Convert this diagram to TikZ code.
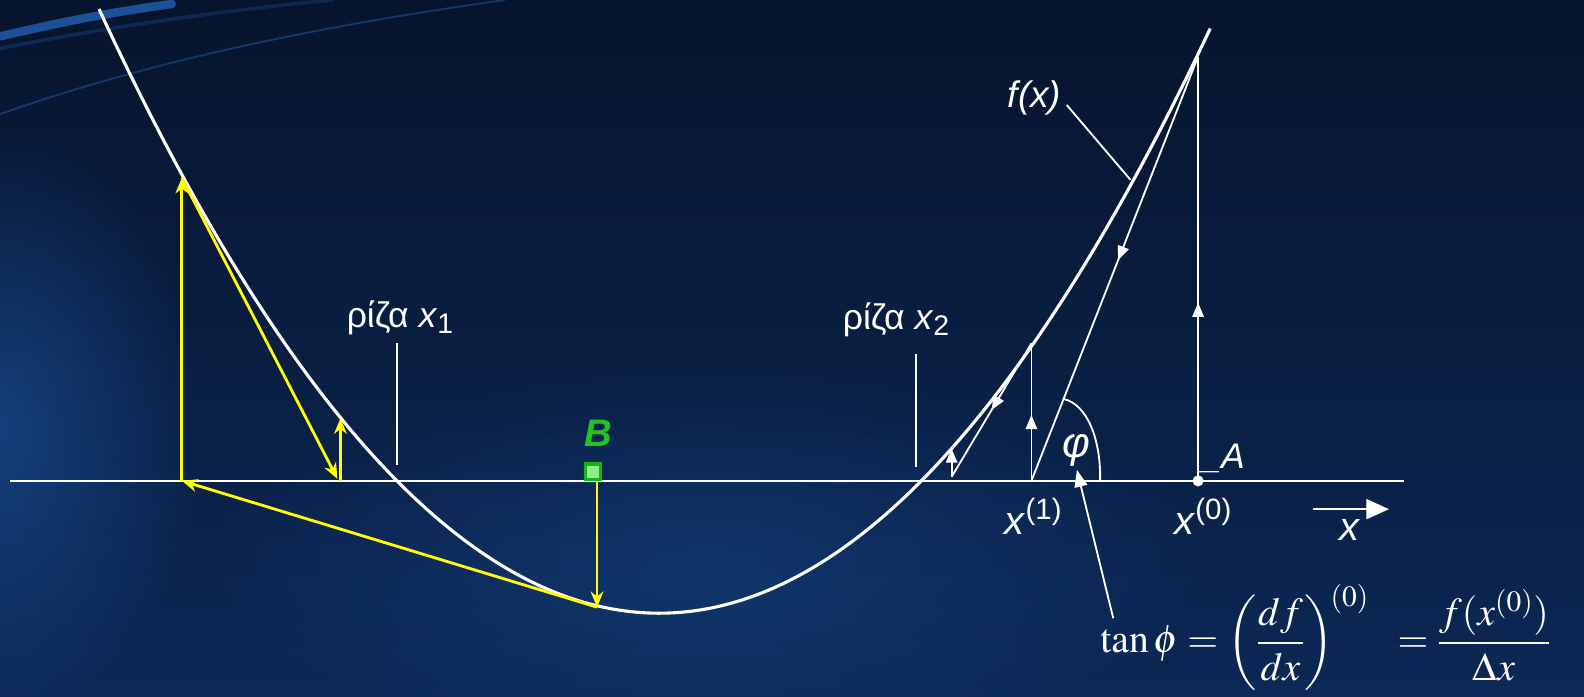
\documentclass[tikz,border=0pt]{standalone}
\usepackage{amsmath}
\usepackage{mathptmx}
\usepackage[no-math]{fontspec}
\newfontfamily\lab{Liberation Sans}
\usetikzlibrary{arrows.meta,decorations.markings,fadings}
\definecolor{bgtop}{HTML}{07142D}
\definecolor{bgbot}{HTML}{0C2856}
\definecolor{glow}{HTML}{2A7AE0}
\definecolor{yel}{HTML}{FFFF00}
\definecolor{gfill}{HTML}{8EEB8E}
\definecolor{gdark}{HTML}{14B414}
\definecolor{gtext}{HTML}{22C422}
\tikzfading[name=fuzzyglow, inner color=transparent!0, outer color=transparent!100]
\tikzset{
  axisline/.style={white, line width=1.6pt},
  curveline/.style={white, line width=2.2pt},
  thinline/.style={white, line width=1.3pt},
  yarrow/.style={yel, line width=2pt, -{Stealth[length=11pt,width=9pt,inset=3.5pt]}},
  midarrow/.style={postaction={decorate}, decoration={markings, mark=at position #1 with {\arrow{Triangle[length=10pt,width=8pt]}}}},
  lbl/.style={text=white, inner sep=0pt, font=\lab\fontsize{25}{29}\selectfont},
  biglbl/.style={text=white, inner sep=0pt, font=\lab\fontsize{28}{32}\selectfont},
}
\begin{document}
\begin{tikzpicture}[x=0.025cm,y=-0.025cm]
\useasboundingbox (0,0) rectangle (1568,689);
% background
\fill[top color=bgtop,bottom color=bgbot] (0,0) rectangle (1568,689);
\fill[glow, opacity=0.35, path fading=fuzzyglow] (0,420) ellipse (200 and 300);
\fill[glow, opacity=0.2, path fading=fuzzyglow] (700,560) ellipse (500 and 200);
\draw[glow, line width=6pt, opacity=0.6, line cap=round] (0,36) .. controls (60,22) and (110,12) .. (170,4);
\draw[glow, line width=2.5pt, opacity=0.2] (0,48) .. controls (80,32) and (200,12) .. (330,0);
\draw[glow, line width=1.3pt, opacity=0.35] (0,113) .. controls (150,60) and (320,25) .. (500,0);

% axis
\coordinate (axL) at (10,476);
\coordinate (axR) at (1390,476);
\draw[axisline] (axL) -- (axR);

% parabola f(x)
\draw[curveline] plot[domain=98:1198, samples=150, smooth] (\x,{607-19.45*((\x-652.5)/100)^2});

% roots
\coordinate (r1a) at (393,340); \coordinate (r1b) at (393,460);
\coordinate (r2a) at (907,350); \coordinate (r2b) at (907,462);
\draw[thinline] (r1a) -- (r1b);
\draw[thinline] (r2a) -- (r2b);
\node[lbl, anchor=base west] (root1) at (343,324) {ρίζα \textit{x}\raisebox{-0.35ex}{\fontsize{20}{24}\selectfont 1}};
\node[lbl, anchor=base west] (root2) at (834,326) {ρίζα \textit{x}\raisebox{-0.35ex}{\fontsize{20}{24}\selectfont 2}};

% f(x) label
\node[lbl, font=\lab\fontsize{26}{30}\selectfont\itshape] (fx) at (1024,97) {f(x)};
\coordinate (fxa) at (1056,104); \coordinate (fxb) at (1119,178);
\draw[thinline] (fxa) -- (fxb);

% Newton iteration (white)
\coordinate (X0) at (1186,476);
\coordinate (T0) at (1186,56);
\coordinate (X1) at (1021,476);
\coordinate (T1) at (1021,340);
\coordinate (X2) at (942,472);
\coordinate (T2) at (942,444);
\draw[thinline, midarrow=0.42] (X0) -- (T0);
\draw[thinline, midarrow=0.48] (T0) -- (X1);
\draw[thinline, midarrow=0.48] (X1) -- (T1);
\draw[thinline, midarrow=0.5] (T1) -- (X2);
\draw[thinline, -{Triangle[length=10pt,width=8pt]}] (X2) -- (T2);
\fill[white] (X0) circle (5.5);

% angle phi
\coordinate (arcA) at (1053,395);
\coordinate (arcB) at (1089,476);
\draw[thinline] (arcA) .. controls (1076,400) and (1090,435) .. (arcB);
\node[biglbl, font=\lab\fontsize{30}{34}\selectfont\itshape] (phi) at (1066,446) {φ};

% labels on axis
\node[biglbl] (x1) at (1023,511) {\textit{x}\textsuperscript{(1)}};
\node[biglbl] (x0) at (1191,511) {\textit{x}\textsuperscript{(0)}};
\node[lbl, font=\lab\fontsize{25}{29}\selectfont\itshape, anchor=base west] (A) at (1189,464) {\_A};

% x direction arrow
\coordinate (xa) at (1300,504); \coordinate (xb) at (1375,504);
\draw[axisline, -{Triangle[length=16pt,width=14pt]}] (xa) -- (xb);
\node[biglbl, font=\lab\fontsize{28}{32}\selectfont\itshape] (xl) at (1336,525) {x};

% formula
\node[text=white, anchor=west, inner sep=0pt] (form) at (1089,631)
  {\fontsize{28}{33}\selectfont $\tan\phi = \left(\dfrac{df}{dx}\right)^{\!(0)}\enspace = \dfrac{f(x^{(0)})}{\Delta x}$};
\coordinate (pa) at (1102,612); \coordinate (pb) at (1066,465);
\draw[thinline, -{Triangle[length=12pt,width=9pt]}] (pa) -- (pb);

% yellow construction
\coordinate (B) at (591,476);
\coordinate (Bb) at (591,601);
\coordinate (P0) at (180,476);
\coordinate (P1) at (180,176);
\coordinate (Q0) at (334,474);
\coordinate (Q0v) at (337,476);
\coordinate (Q1) at (337,414);
\draw[yarrow] (B) -- (Bb);
\draw[yarrow] (Bb) -- (P0);
\draw[yarrow] (P0) -- (P1);
\draw[yarrow] (P1) -- (Q0);
\draw[yarrow] (Q0v) -- (Q1);

% B marker
\node[draw=gdark, fill=gfill, line width=2.2pt, minimum size=11pt, inner sep=0pt] (Bsq) at (587,467) {};
\node[text=gtext, inner sep=0pt, font=\lab\fontsize{27}{30}\selectfont\bfseries\itshape] (Blbl) at (592,429) {B};
\end{tikzpicture}
\end{document}
